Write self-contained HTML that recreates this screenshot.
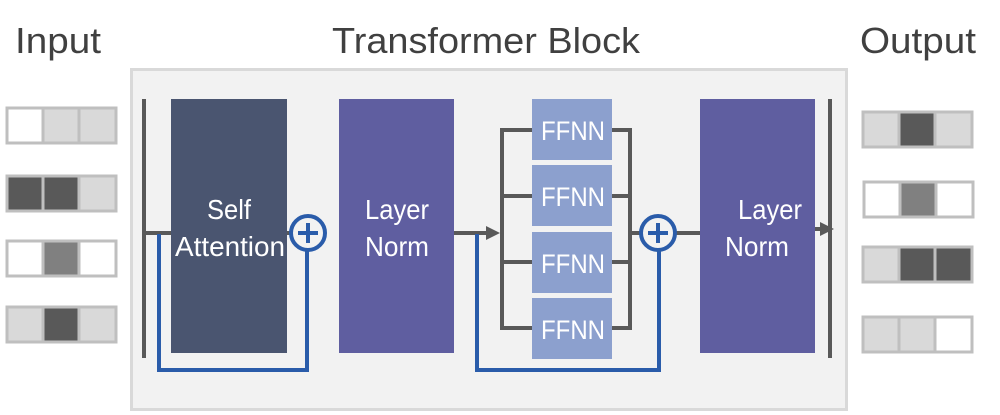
<!DOCTYPE html>
<html><head><meta charset="utf-8"><style>html,body{margin:0;padding:0;background:#fff;}svg{display:block}</style></head>
<body>
<svg width="1000" height="415" viewBox="0 0 1000 415" xmlns="http://www.w3.org/2000/svg" font-family="Liberation Sans, DejaVu Sans, sans-serif">
<g fill="#404040" font-size="36">
<text x="15" y="53" textLength="86" lengthAdjust="spacingAndGlyphs">Input</text>
<text x="332" y="53" textLength="308" lengthAdjust="spacingAndGlyphs">Transformer Block</text>
<text x="860" y="53" textLength="116" lengthAdjust="spacingAndGlyphs">Output</text>
</g>
<rect x="131.5" y="69.5" width="715" height="340" fill="#f2f2f2" stroke="#d9d9d9" stroke-width="3"/>
<!-- input cells -->
<g stroke="#bfbfbf" stroke-width="3">
<rect x="7" y="108" width="36" height="35" fill="#fff"/><rect x="43" y="108" width="36" height="35" fill="#d9d9d9"/><rect x="79" y="108" width="37" height="35" fill="#d9d9d9"/>
<rect x="7" y="176" width="36" height="35" fill="#595959"/><rect x="43" y="176" width="36" height="35" fill="#595959"/><rect x="79" y="176" width="37" height="35" fill="#d9d9d9"/>
<rect x="7" y="241" width="36" height="35" fill="#fff"/><rect x="43" y="241" width="36" height="35" fill="#808080"/><rect x="79" y="241" width="37" height="35" fill="#fff"/>
<rect x="7" y="307" width="36" height="35" fill="#d9d9d9"/><rect x="43" y="307" width="36" height="35" fill="#595959"/><rect x="79" y="307" width="37" height="35" fill="#d9d9d9"/>
<rect x="863" y="112" width="36" height="35" fill="#d9d9d9"/><rect x="899" y="112" width="36" height="35" fill="#595959"/><rect x="935" y="112" width="37" height="35" fill="#d9d9d9"/>
<rect x="864" y="182" width="36" height="35" fill="#fff"/><rect x="900" y="182" width="36" height="35" fill="#808080"/><rect x="936" y="182" width="37" height="35" fill="#fff"/>
<rect x="863" y="247" width="36" height="35" fill="#d9d9d9"/><rect x="899" y="247" width="36" height="35" fill="#595959"/><rect x="935" y="247" width="37" height="35" fill="#595959"/>
<rect x="863" y="317" width="36" height="35" fill="#d9d9d9"/><rect x="899" y="317" width="36" height="35" fill="#d9d9d9"/><rect x="935" y="317" width="37" height="35" fill="#fff"/>
</g>
<!-- dark lines -->
<g stroke="#595959" stroke-width="4" fill="none">
<line x1="144" y1="99" x2="144" y2="358"/>
<line x1="144" y1="233" x2="172" y2="233"/>
<line x1="287" y1="233" x2="293" y2="233"/>
<line x1="454" y1="233" x2="488" y2="233"/>
<polyline points="532,130 502,130 502,328 532,328"/>
<line x1="502" y1="196" x2="532" y2="196"/><line x1="502" y1="262" x2="532" y2="262"/>
<polyline points="612,130 630,130 630,328 612,328"/>
<line x1="612" y1="196" x2="630" y2="196"/><line x1="612" y1="262" x2="630" y2="262"/>
<line x1="630" y1="233" x2="642" y2="233"/>
<line x1="674" y1="233" x2="700" y2="233"/>
<line x1="815" y1="229" x2="822" y2="229"/>
<line x1="830" y1="99" x2="830" y2="358"/>
</g>
<polygon points="486,226 500,233 486,240" fill="#595959"/>
<polygon points="820,222 834,229 820,236" fill="#595959"/>
<!-- boxes -->
<rect x="171" y="99" width="116" height="254" fill="#4a5570"/>
<rect x="339" y="99" width="115" height="254" fill="#5f5ea0"/>
<rect x="700" y="99" width="115" height="254" fill="#5f5ea0"/>
<g fill="#8ca0ce">
<rect x="532" y="99" width="80" height="61"/><rect x="532" y="165" width="80" height="61"/>
<rect x="532" y="232" width="80" height="61"/><rect x="532" y="298" width="80" height="61"/>
</g>
<g fill="#fff" font-size="28" text-anchor="middle">
<text x="229" y="219" textLength="44" lengthAdjust="spacingAndGlyphs">Self</text>
<text x="230" y="256" textLength="110" lengthAdjust="spacingAndGlyphs">Attention</text>
<text x="397" y="219" textLength="64" lengthAdjust="spacingAndGlyphs">Layer</text>
<text x="397" y="256" textLength="64" lengthAdjust="spacingAndGlyphs">Norm</text>
<text x="738" y="219" textLength="64" lengthAdjust="spacingAndGlyphs" text-anchor="start">Layer</text>
<text x="757" y="256" textLength="64" lengthAdjust="spacingAndGlyphs">Norm</text>
</g>
<g fill="#fff" font-size="27" text-anchor="middle">
<text x="573" y="140" textLength="64" lengthAdjust="spacingAndGlyphs">FFNN</text>
<text x="573" y="206" textLength="64" lengthAdjust="spacingAndGlyphs">FFNN</text>
<text x="573" y="273" textLength="64" lengthAdjust="spacingAndGlyphs">FFNN</text>
<text x="573" y="339" textLength="64" lengthAdjust="spacingAndGlyphs">FFNN</text>
</g>
<!-- blue residuals -->
<g stroke="#2a5caa" stroke-width="4" fill="none">
<polyline points="159,234 159,370 307,370 307,251"/>
<polyline points="477,234 477,370 659,370 659,251"/>
<circle cx="308" cy="233" r="17" fill="#f2f2f2"/>
<line x1="298" y1="233" x2="318" y2="233"/><line x1="308" y1="223" x2="308" y2="243"/>
<circle cx="658" cy="233" r="17" fill="#f2f2f2"/>
<line x1="648" y1="233" x2="668" y2="233"/><line x1="658" y1="223" x2="658" y2="243"/>
</g>
</svg>
</body></html>
